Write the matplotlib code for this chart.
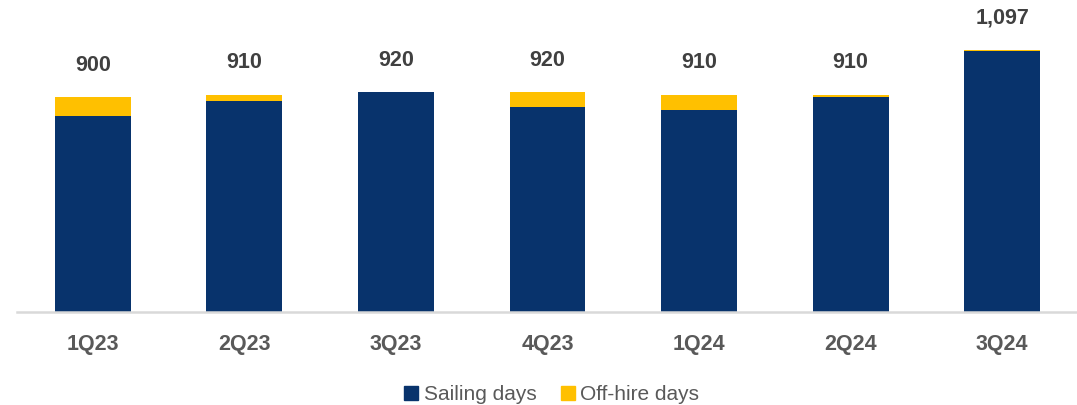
import matplotlib
matplotlib.use("Agg")
import matplotlib.pyplot as plt
from matplotlib.lines import Line2D

quarters = ["1Q23", "2Q23", "3Q23", "4Q23", "1Q24", "2Q24", "3Q24"]
sailing_days = [821, 884, 920, 860, 848, 902, 1093]
offhire_days = [79, 26, 0, 60, 62, 8, 4]
total_labels = ["900", "910", "920", "920", "910", "910", "1,097"]

NAVY = "#08336C"
GOLD = "#FFC000"
LABEL_GREY = "#404040"
TICK_GREY = "#595959"

plt.rcParams["font.family"] = ["Liberation Sans", "DejaVu Sans"]

fig = plt.figure(figsize=(10.77, 4.05), dpi=100)
ax = fig.add_axes([17 / 1077, 93 / 405, 1061 / 1077, 312 / 405])

x = range(len(quarters))
ax.bar(x, sailing_days, width=0.5, color=NAVY, zorder=2)
ax.bar(x, offhire_days, width=0.5, bottom=sailing_days, color=GOLD, zorder=2)

totals = [s + o for s, o in zip(sailing_days, offhire_days)]
for i, (t, lab) in enumerate(zip(totals, total_labels)):
    ax.annotate(lab, (i, t), xytext=(0, 23), textcoords="offset points",
                ha="center", va="center", fontsize=15.5, fontweight="bold",
                color=LABEL_GREY)

ax.set_xlim(-0.5, 6.5)
ax.set_ylim(0, 1307)
ax.set_xticks(list(x))
ax.set_xticklabels(quarters, fontsize=15.5, fontweight="bold", color=TICK_GREY)
ax.tick_params(axis="x", length=0, pad=16)
ax.set_yticks([])
for side in ("top", "right", "left"):
    ax.spines[side].set_visible(False)
ax.spines["bottom"].set_color("#D9D9D9")
ax.spines["bottom"].set_linewidth(1.8)

handles = [
    Line2D([], [], marker="s", linestyle="none", markersize=10.5,
           markerfacecolor=NAVY, markeredgecolor=NAVY, label="Sailing days"),
    Line2D([], [], marker="s", linestyle="none", markersize=10.5,
           markerfacecolor=GOLD, markeredgecolor=GOLD, label="Off-hire days"),
]
leg = fig.legend(handles=handles, loc="center", bbox_to_anchor=(552 / 1077, 1 - 395 / 405),
                 ncol=2, frameon=False, fontsize=15, handlelength=0.6,
                 handletextpad=0.3, columnspacing=1.2, borderpad=0)
for t in leg.get_texts():
    t.set_color(TICK_GREY)

fig.savefig("out.png", dpi=100)
